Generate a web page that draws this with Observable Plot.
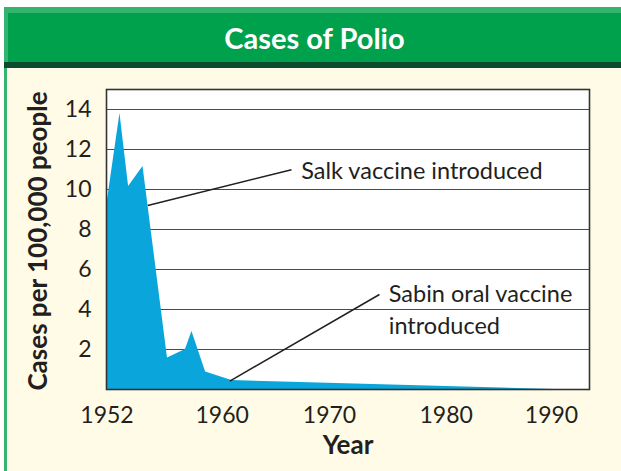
<!DOCTYPE html>
<html><head><meta charset="utf-8">
<script src="https://cdn.jsdelivr.net/npm/d3@7"></script>
<script src="https://cdn.jsdelivr.net/npm/@observablehq/plot@0.6"></script>
<style>
html,body{margin:0;padding:0;background:#fff;}
#wrap{position:relative;width:621px;height:471px;overflow:hidden;font-family:Lato, sans-serif;}
#banner{position:absolute;left:4px;top:7px;right:0;height:49px;background:#00a14c;border-top:6px solid #34b46e;border-left:4px solid #34b46e;}
#strip{position:absolute;left:4px;top:62px;right:0;height:6px;background:#0b4b2e;}
#panel{position:absolute;left:4px;top:68px;right:0;bottom:0;background:#fffbe7;border-left:3px solid #34b46e;}
#title{position:absolute;left:8px;width:613px;top:20px;line-height:29px;text-align:center;color:#fff;font:bold 29px Lato, sans-serif;}
#chart{position:absolute;left:0;top:68px;}
</style>
</head><body>
<div id="wrap">
  <div id="banner"></div>
  <div id="strip"></div>
  <div id="panel"></div>
  <div id="title">Cases of Polio</div>
  <div id="chart"></div>
</div>
<script>
// Data
const years = [1952.0, 1952.9, 1953.5, 1954.5, 1956.2, 1957.45, 1957.9, 1958.85, 1960.9, 1990.2];
const cases = [9.3, 13.8, 10.15, 11.15, 1.58, 2.0, 2.9, 0.87, 0.45, 0];
const xTicks = [1952, 1960, 1970, 1980, 1990];
const yTicks = [2, 4, 6, 8, 10, 12, 14];
const annoText = ["Salk vaccine introduced", "Sabin oral vaccine", "introduced"];
const annoX = [1967.36, 1975.08, 1975.08];
const annoY = [10.9, 4.73, 3.15];
const leadX1 = [1954.83, 1960.71];
const leadY1 = [9.2, 0.42];
const leadX2 = [1966.46, 1974.28];
const leadY2 = [10.99, 4.75];
const yLabel = "Cases per 100,000 people";
const xLabel = "Year";

const series = years.map((y, i) => ({year: y, cases: cases[i]}));
const annos = annoText.map((t, i) => ({text: t, x: annoX[i], y: annoY[i]}));
const leaders = leadX1.map((x, i) => ({x1: x, y1: leadY1[i], x2: leadX2[i], y2: leadY2[i]}));

const ink = "#231f20";
const chart = Plot.plot({
  width: 621,
  height: 403,
  marginLeft: 106,
  marginRight: 32,
  marginTop: 21,
  marginBottom: 82,
  style: {background: "transparent", fontFamily: "Lato, sans-serif", fontSize: "23px", color: ink, overflow: "visible"},
  x: {type: "linear", domain: xTicks, range: [106.5, 221.7, 329, 445.7, 551], ticks: xTicks, tickSize: 0, tickPadding: 17, tickFormat: "d", label: null},
  y: {type: "linear", domain: [0, 15], range: [321, 21], ticks: yTicks, tickSize: 0, tickPadding: 15, label: null},
  marks: [
    Plot.frame({fill: "white", stroke: "none"}),
    Plot.ruleY(yTicks, {stroke: "#4a4a4a", strokeWidth: 1.2}),
    Plot.areaY(series, {x: "year", y: "cases", fill: "#0aa6db"}),
    Plot.frame({stroke: "#333", strokeWidth: 1.6}),
    Plot.link(leaders, {x1: "x1", y1: "y1", x2: "x2", y2: "y2", stroke: ink, strokeWidth: 1.5}),
    Plot.text(annos, {x: "x", y: "y", text: "text", textAnchor: "start", fontSize: 23.5, fill: ink}),
    Plot.text([yLabel], {frameAnchor: "left", textAnchor: "middle", rotate: -90, dx: -68, dy: 1.5, fontWeight: "bold", fontSize: 26, fill: ink}),
    Plot.text([xLabel], {frameAnchor: "bottom", textAnchor: "middle", dx: 0, dy: 64, fontWeight: "bold", fontSize: 26, fill: ink})
  ]
});
document.getElementById("chart").appendChild(chart);
</script>
</body></html>
